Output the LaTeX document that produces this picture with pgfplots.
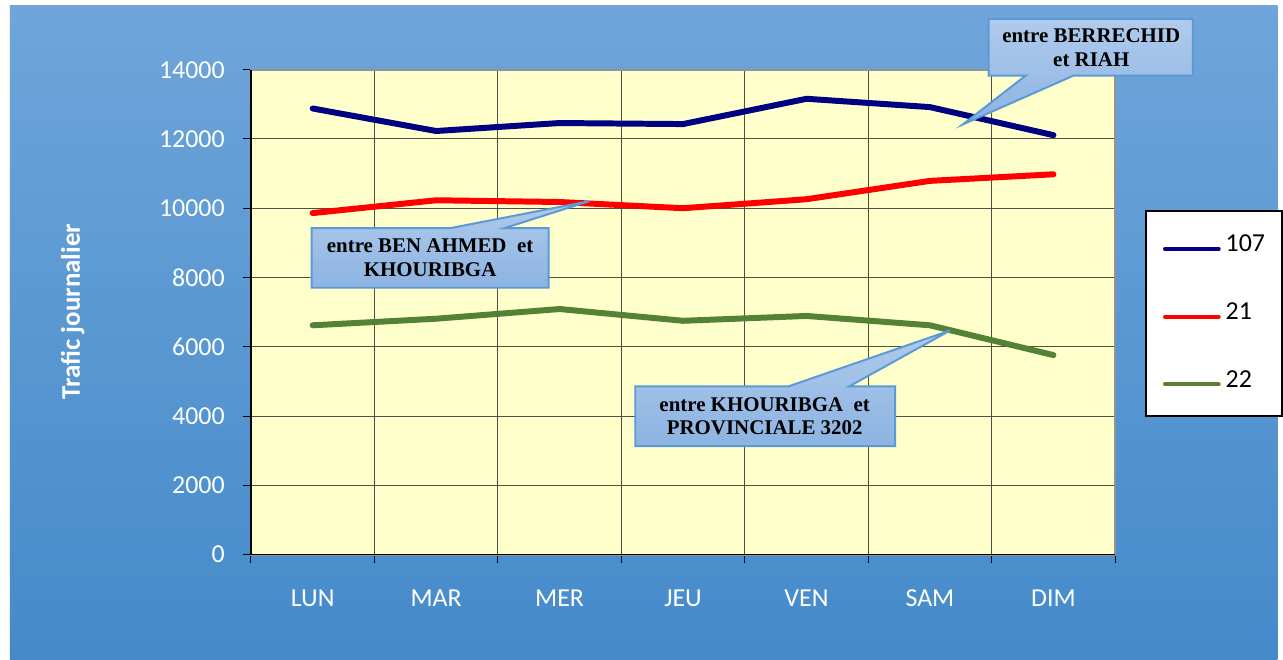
\documentclass[border=0pt]{standalone}
\usepackage{pgfplots}
\pgfplotsset{compat=1.18}
\usepackage{fontspec}
\setmainfont{Carlito}
\newfontfamily\tnr{Liberation Serif}
\definecolor{bgtop}{RGB}{111,165,218}
\definecolor{bgbot}{RGB}{68,138,202}
\definecolor{plotbg}{RGB}{255,255,204}
\definecolor{gridc}{RGB}{80,80,70}
\definecolor{navyl}{RGB}{0,0,128}
\definecolor{greenl}{RGB}{84,130,53}
\definecolor{calltop}{RGB}{176,203,236}
\definecolor{callbot}{RGB}{140,179,226}
\definecolor{callborder}{RGB}{91,155,213}
\begin{document}
\begin{tikzpicture}
\begin{scope}[x=0.5pt,y=-0.5pt]
\useasboundingbox (0,0) rectangle (1283,662);
\fill[white] (0,0) rectangle (1283,662);
\shade[top color=bgtop, bottom color=bgbot] (10,6) rectangle (1283,662);
\node[rotate=90, text=white, font=\bfseries\fontsize{13.5}{16}\selectfont] at (73,313) {Trafic journalier};
\end{scope}
\begin{axis}[
  at={(126pt,-278.5pt)}, anchor=south west,
  scale only axis, width=434pt, height=243.5pt,
  xmin=-0.5, xmax=6.5, ymin=0, ymax=14000,
  xtick={-0.5,0.5,...,6.5}, xticklabels={,,,,,,,,},
  extra x ticks={0,1,2,3,4,5,6},
  extra x tick labels={LUN,MAR,MER,JEU,VEN,SAM,DIM},
  extra x tick style={major tick length=0pt, xmajorgrids=false,
    xticklabel style={text=white, font=\fontsize{13}{15}\selectfont, anchor=base, inner sep=0pt, yshift=-26pt}},
  ytick={0,2000,...,14000},
  scaled y ticks=false,
  xmajorgrids, ymajorgrids,
  major grid style={gridc, line width=0.5pt},
  xtick pos=lower, ytick pos=left,
  tick align=outside, major tick length=4pt,
  tick style={black, line width=0.5pt},
  axis line style={draw=gray!85, line width=1pt},
  axis background/.style={fill=plotbg},
  yticklabel style={text=white, font=\fontsize{13}{15}\selectfont, inner sep=0pt, xshift=-9pt},
  /pgf/number format/assume math mode=true,
  /pgf/number format/1000 sep={},
  clip=false,
  legend style={at={(1.0346,0.7105)}, anchor=north west, fill=white, draw=black, line width=1pt,
    inner xsep=8.5pt, inner ysep=11.5pt, row sep=22pt,
    font=\fontsize{13}{15}\selectfont,
    nodes={inner sep=0pt, text height=9pt, text depth=3pt},
    /tikz/every odd column/.append style={column sep=2.5pt}},
  legend cell align=left,
  legend image code/.code={\draw[#1, line width=2pt, line cap=round] (0pt,-1.5pt) -- (27pt,-1.5pt);},
]
\addplot[navyl, line width=3pt, line cap=round, line join=round] coordinates {(0,12880) (1,12230) (2,12460) (3,12430) (4,13160) (5,12920) (6,12110)};
\addlegendentry{107}
\addplot[red, line width=3pt, line cap=round, line join=round] coordinates {(0,9860) (1,10230) (2,10180) (3,10000) (4,10260) (5,10790) (6,10980)};
\addlegendentry{21}
\addplot[greenl, line width=3pt, line cap=round, line join=round] coordinates {(0,6620) (1,6810) (2,7090) (3,6750) (4,6890) (5,6620) (6,5760)};
\addlegendentry{22}
\draw[black, line width=0.8pt] (rel axis cs:0,1) -- (rel axis cs:0,0) -- (rel axis cs:1,0);
\end{axis}
\begin{scope}[x=0.5pt,y=-0.5pt]
\path[draw=callborder, line width=1pt, top color=calltop, bottom color=callbot]
  (993,19) -- (1198,19) -- (1198,76) -- (1078,76) -- (967,125) -- (1030,76) -- (993,76) -- cycle;
\node[font=\tnr\bfseries\fontsize{10.5}{12}\selectfont, align=center, inner sep=0pt] at (1096,48) {entre BERRECHID\\et RIAH};
\path[draw=callborder, line width=1pt, top color=calltop, bottom color=callbot]
  (313,229) -- (453,229) -- (592,202) -- (507,229) -- (551,229) -- (551,289) -- (313,289) -- cycle;
\node[font=\tnr\bfseries\fontsize{10.5}{12}\selectfont, align=center, inner sep=0pt] at (432,259) {entre BEN AHMED \ et\\KHOURIBGA};
\path[draw=callborder, line width=1pt, top color=calltop, bottom color=callbot]
  (638,388) -- (792,388) -- (954,332) -- (853,388) -- (899,388) -- (899,448) -- (638,448) -- cycle;
\node[font=\tnr\bfseries\fontsize{10.5}{12}\selectfont, align=center, inner sep=0pt] at (768,418) {entre KHOURIBGA \ et\\PROVINCIALE 3202};
\end{scope}
\end{tikzpicture}
\end{document}
